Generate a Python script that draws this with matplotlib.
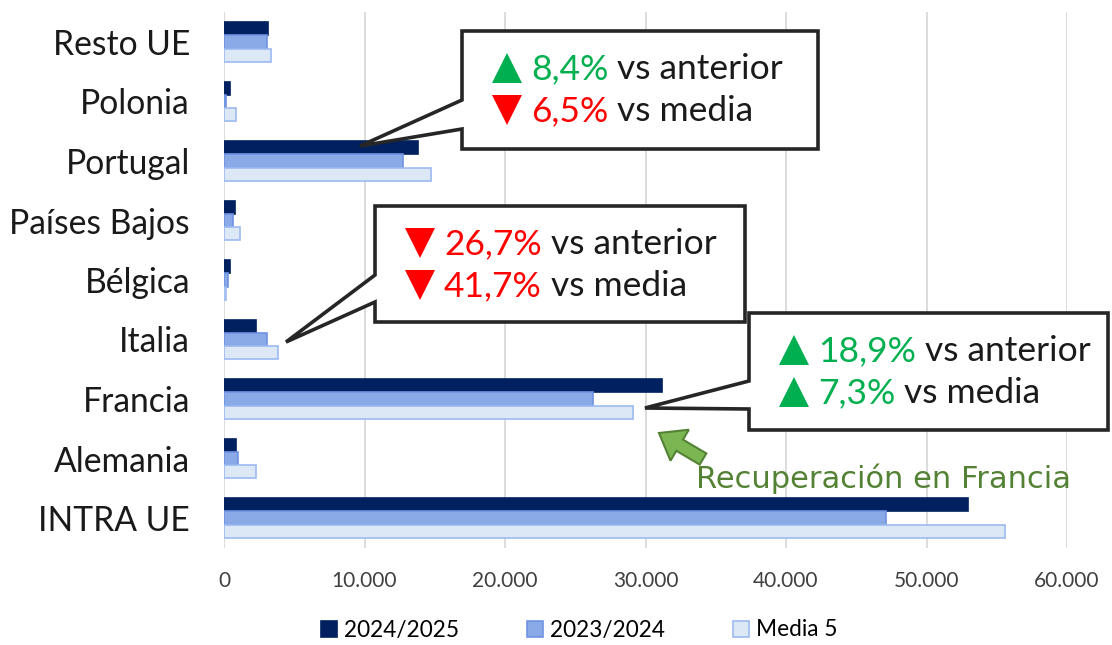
import matplotlib.pyplot as plt
import matplotlib.patches as mpatches
import numpy as np
from matplotlib.ticker import FuncFormatter

# Data (top to bottom in the picture)
categories = ["Resto UE", "Polonia", "Portugal", "Países Bajos", "Bélgica",
              "Italia", "Francia", "Alemania", "INTRA UE"]
s2425 = [3130, 400, 13790, 760, 400, 2250, 31150, 880, 52950]
s2324 = [3080, 150, 12720, 620, 260, 3070, 26240, 1000, 47120]
media5 = [3350, 830, 14750, 1140, 170, 3860, 29090, 2280, 55590]
series_names = ["2024/2025", "2023/2024", "Media 5"]

FONT = "Lato"
plt.rcParams['font.family'] = [FONT, 'DejaVu Sans']

fig = plt.figure(figsize=(11.12, 6.45), dpi=100)
ax = fig.add_axes([224 / 1112, 1 - 547.75 / 645, (1067 - 224) / 1112, 535.5 / 645])

n = len(categories)
y = np.arange(n)[::-1]  # first category at top
h = 0.222
styles = [
    dict(color="#00205f", edgecolor="#00205f"),
    dict(color="#8aa9e7", edgecolor="#6f93e3"),
    dict(color="#dde8f6", edgecolor="#9dbaf0"),
]
for k, vals in enumerate([s2425, s2324, media5]):
    ax.barh(y + h * (1 - k), vals, height=h, label=series_names[k],
            linewidth=1.2, zorder=3, **styles[k])

ax.set_xlim(0, 60000)
ax.set_ylim(-0.5, n - 0.5)
ax.set_xticks(np.arange(0, 60001, 10000))
ax.xaxis.set_major_formatter(FuncFormatter(lambda v, p: f"{int(v):,}".replace(",", ".")))
ax.set_yticks(y)
ax.set_yticklabels(categories, fontsize=24.2, color="#1a1a1a")
ax.tick_params(axis='x', labelsize=15, colors="#404040", length=0, pad=17)
ax.tick_params(axis='y', length=0, pad=24.5)
ax.grid(axis='x', color="#d9d9d9", linewidth=1.3, zorder=0)
for s in ax.spines.values():
    s.set_visible(False)

leg = fig.legend(*ax.get_legend_handles_labels(), loc="center",
                 bbox_to_anchor=(579 / 1112, 1 - 630 / 645), ncol=3,
                 frameon=False, fontsize=16.3, handlelength=0.72, handleheight=0.72,
                 columnspacing=3.0, handletextpad=0.3)

# Overlay in pixel coordinates for callouts
ov = fig.add_axes([0, 0, 1, 1])
ov.set_xlim(0, 1112)
ov.set_ylim(645, 0)
ov.axis('off')
ov.patch.set_alpha(0)

GREEN = "#00b050"
RED = "#ff0000"


def callout(box, base, tip, lines):
    x0, y0, x1, y1 = box
    b0, b1 = base
    pts = [(x0, y0), (x1, y0), (x1, y1), (x0, y1), (x0, b1), tip, (x0, b0)]
    ov.add_patch(mpatches.Polygon(pts, closed=True, facecolor="white",
                                  edgecolor="#262626", linewidth=2.6, zorder=5))
    for (up, pct, rest), ty in zip(lines, [y0 + 37, y0 + 79]):
        col = GREEN if up else RED
        tx = x0 + 45
        ov.plot(tx, ty, marker="^" if up else "v", markersize=21, color=col,
                zorder=6, markeredgewidth=0)
        t = ov.text(tx + 24, ty + 1, pct, color=col, fontsize=25.5, va="center",
                    ha="left", zorder=6)
        ov.annotate(" " + rest, xy=(1, 0), xycoords=t, va="bottom", ha="left",
                    fontsize=25.5, color="#1a1a1a", zorder=6)


callout((462, 31, 818, 149), (100, 129), (360, 146),
        [(True, "8,4%", "vs anterior"), (False, "6,5%", "vs media")])
callout((375, 206, 745, 322), (275, 302), (286, 342),
        [(False, "26,7%", "vs anterior"), (False, "41,7%", "vs media")])
callout((749, 313, 1108, 430), (381, 409), (645, 408),
        [(True, "18,9%", "vs anterior"), (True, "7,3%", "vs media")])

# Green arrow and note
ov.add_patch(mpatches.FancyArrow(703, 459, -44, -26, width=13, head_width=36,
                                 head_length=24, length_includes_head=True,
                                 facecolor="#7cb653", edgecolor="#548235",
                                 linewidth=1.5, zorder=5))
ov.text(883, 479, "Recuperación en Francia", color="#548235", fontsize=22,
        ha="center", va="center", zorder=6, family="DejaVu Sans")

fig.savefig("out.png", dpi=100)
